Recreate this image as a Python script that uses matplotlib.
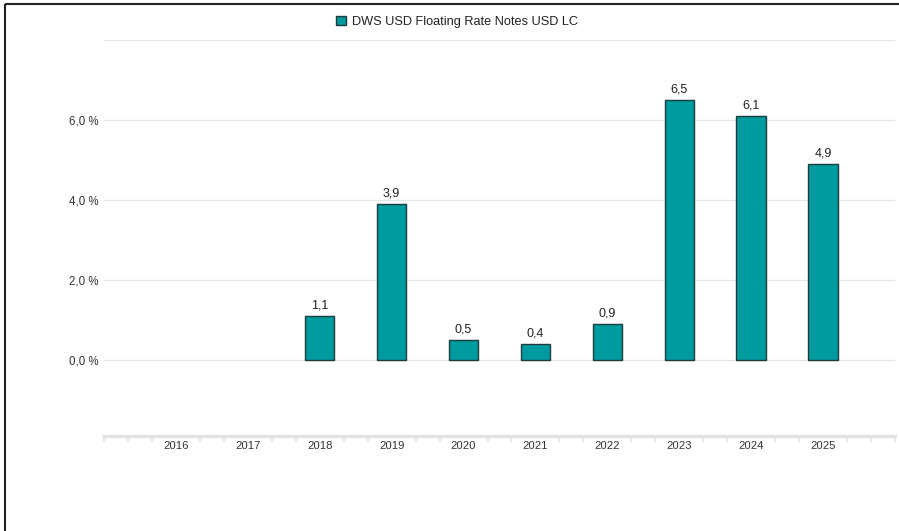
import numpy as np
import matplotlib
matplotlib.use('Agg')
import matplotlib.pyplot as plt
from matplotlib.patches import Rectangle
from matplotlib.lines import Line2D

years = ['2016', '2017', '2018', '2019', '2020', '2021', '2022', '2023', '2024', '2025']
values = [None, None, 1.1, 3.9, 0.5, 0.4, 0.9, 6.5, 6.1, 4.9]
series_name = 'DWS USD Floating Rate Notes USD LC'
yticks = [0, 2, 4, 6]

bar_color = '#009b9e'
edge_color = '#1f3a3a'
text_color = '#333333'
grid_color = '#e6e6e6'

fig = plt.figure(figsize=(8.99, 5.31), dpi=100)
plt.rcParams['font.family'] = ['Liberation Sans', 'DejaVu Sans']
W, H = 899, 531
ax = fig.add_axes([104 / W, (H - 440) / H, (895 - 104) / W, (440 - 40) / H])

x = np.arange(len(years))
for xi, v in zip(x, values):
    if v is None:
        continue
    ax.bar(xi, v, width=0.41, color=bar_color, edgecolor=edge_color, linewidth=1.0, zorder=3)
    ax.text(xi, v + 0.12, ('%.1f' % v).replace('.', ','), ha='center', va='bottom',
            fontsize=9, color='#222222', zorder=4)

ax.set_xlim(-1, 10)
ax.set_ylim(-2, 8)

# grid lines for 0..8 %
for g in [0, 2, 4, 6, 8]:
    ax.axhline(g, color=grid_color, linewidth=1.0, zorder=1)

ax.set_yticks(yticks)
ax.set_yticklabels([('%.1f' % t).replace('.', ',') + ' %' for t in yticks])
ax.tick_params(axis='y', length=0, pad=4, labelsize=8.3, labelcolor=text_color)

ax.set_xticks(x)
ax.set_xticklabels(years)
ax.set_xticks(np.arange(-1, 10.01, 1 / 3), minor=True)
ax.tick_params(axis='x', which='major', length=0, pad=3.5, labelsize=8.2, labelcolor=text_color)
ax.tick_params(axis='x', which='minor', length=4, width=1.2, color='#e0e0e0')

for side in ['top', 'right', 'left']:
    ax.spines[side].set_visible(False)
ax.spines['bottom'].set_position(('data', -1.91))
ax.spines['bottom'].set_color('#e3e3e3')
ax.spines['bottom'].set_linewidth(2.5)

# legend at top
handle = Rectangle((0, 0), 1, 1, facecolor=bar_color, edgecolor=edge_color, linewidth=1.0)
fig.legend([handle], [series_name], loc='center', bbox_to_anchor=(457 / W, 1 - 22 / H),
           frameon=False, fontsize=9.2, handlelength=0.75, handleheight=0.75, handletextpad=0.5,
           labelcolor='#222222')

# frame lines at left and top of the image
fig.add_artist(Line2D([4.5 / W, 4.5 / W], [0, 1 - 3.5 / H], color='#222222', linewidth=1.5,
                      solid_capstyle='butt'))
fig.add_artist(Line2D([4.5 / W, 1], [1 - 3.5 / H, 1 - 3.5 / H], color='#222222', linewidth=1.5,
                      solid_capstyle='butt'))

fig.savefig('out.png', dpi=100)
